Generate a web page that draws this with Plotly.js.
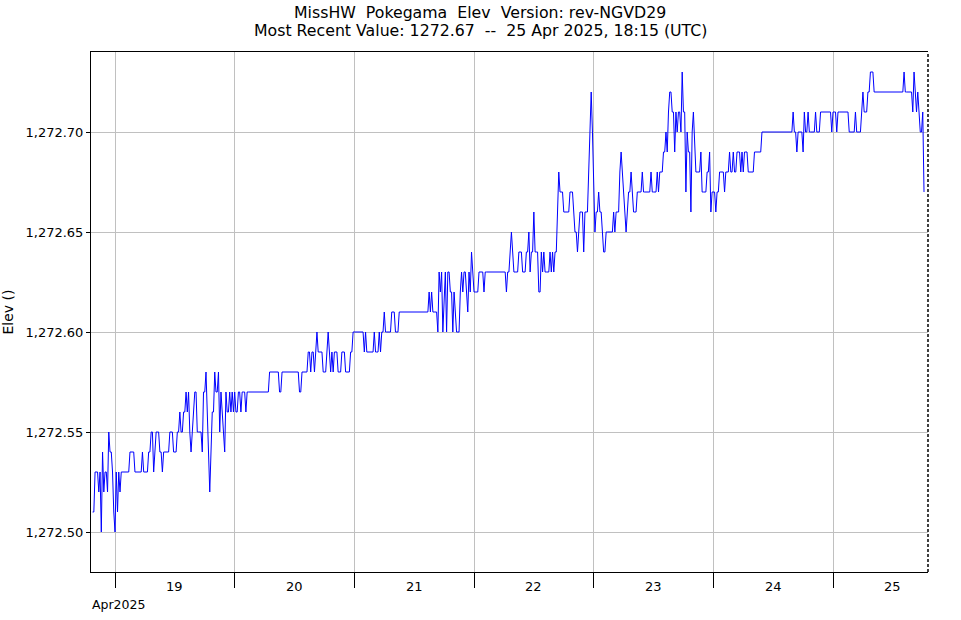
<!DOCTYPE html>
<html>
<head>
<meta charset="utf-8">
<script src="https://cdn.plot.ly/plotly-3.0.1.min.js"></script>
<style>html,body{margin:0;padding:0;background:#fff;}#chart{width:961px;height:620px;}</style>
</head>
<body>
<div id="chart"></div>
<script>
// 15-minute samples starting 2025-04-18 19:30 UTC
const startTime = '2025-04-18T19:30:00Z';
const stepMinutes = 15;
const elev = [
1272.51,1272.51,1272.53,1272.53,1272.53,1272.52,1272.53,1272.50,1272.54,1272.52,
1272.53,1272.53,1272.52,1272.55,1272.54,1272.54,1272.53,1272.51,1272.50,1272.53,
1272.51,1272.53,1272.52,1272.53,1272.53,1272.53,1272.53,1272.53,1272.53,1272.53,
1272.54,1272.54,1272.54,1272.54,1272.53,1272.53,1272.53,1272.53,1272.53,1272.53,
1272.54,1272.53,1272.53,1272.53,1272.53,1272.54,1272.54,1272.55,1272.55,1272.53,
1272.54,1272.55,1272.55,1272.55,1272.54,1272.54,1272.53,1272.54,1272.54,1272.54,
1272.54,1272.54,1272.55,1272.55,1272.55,1272.54,1272.54,1272.54,1272.55,1272.55,
1272.56,1272.55,1272.55,1272.56,1272.56,1272.57,1272.56,1272.57,1272.55,1272.54,
1272.55,1272.56,1272.57,1272.57,1272.55,1272.55,1272.55,1272.55,1272.54,1272.57,
1272.57,1272.58,1272.56,1272.54,1272.52,1272.54,1272.56,1272.56,1272.58,1272.57,
1272.57,1272.58,1272.55,1272.57,1272.56,1272.55,1272.54,1272.57,1272.56,1272.56,
1272.57,1272.56,1272.57,1272.56,1272.57,1272.56,1272.56,1272.57,1272.57,1272.56,
1272.57,1272.57,1272.57,1272.56,1272.57,1272.57,1272.57,1272.57,1272.57,1272.57,
1272.57,1272.57,1272.57,1272.57,1272.57,1272.57,1272.57,1272.57,1272.57,1272.57,
1272.57,1272.57,1272.58,1272.58,1272.58,1272.58,1272.58,1272.58,1272.58,1272.58,
1272.57,1272.57,1272.58,1272.58,1272.58,1272.58,1272.58,1272.58,1272.58,1272.58,
1272.58,1272.58,1272.58,1272.58,1272.58,1272.58,1272.57,1272.57,1272.58,1272.58,
1272.58,1272.58,1272.58,1272.59,1272.59,1272.58,1272.59,1272.59,1272.58,1272.59,
1272.60,1272.59,1272.59,1272.59,1272.59,1272.58,1272.58,1272.58,1272.59,1272.60,
1272.59,1272.58,1272.59,1272.58,1272.59,1272.59,1272.59,1272.58,1272.58,1272.58,
1272.59,1272.59,1272.59,1272.58,1272.58,1272.58,1272.58,1272.59,1272.59,1272.60,
1272.60,1272.60,1272.60,1272.60,1272.60,1272.60,1272.60,1272.60,1272.59,1272.60,
1272.59,1272.59,1272.59,1272.59,1272.59,1272.59,1272.60,1272.59,1272.59,1272.59,
1272.60,1272.59,1272.60,1272.60,1272.61,1272.60,1272.60,1272.60,1272.60,1272.60,
1272.61,1272.61,1272.61,1272.60,1272.60,1272.60,1272.61,1272.61,1272.61,1272.61,
1272.61,1272.61,1272.61,1272.61,1272.61,1272.61,1272.61,1272.61,1272.61,1272.61,
1272.61,1272.61,1272.61,1272.61,1272.61,1272.61,1272.61,1272.61,1272.61,1272.61,
1272.62,1272.61,1272.62,1272.61,1272.61,1272.61,1272.61,1272.60,1272.63,1272.62,
1272.63,1272.60,1272.62,1272.63,1272.60,1272.63,1272.63,1272.62,1272.62,1272.60,
1272.62,1272.61,1272.60,1272.60,1272.60,1272.62,1272.63,1272.62,1272.63,1272.63,
1272.62,1272.61,1272.63,1272.62,1272.64,1272.63,1272.62,1272.62,1272.62,1272.62,
1272.63,1272.63,1272.63,1272.63,1272.62,1272.63,1272.63,1272.63,1272.63,1272.63,
1272.63,1272.63,1272.63,1272.63,1272.63,1272.63,1272.63,1272.63,1272.63,1272.63,
1272.63,1272.63,1272.62,1272.63,1272.63,1272.64,1272.65,1272.64,1272.63,1272.63,
1272.63,1272.63,1272.64,1272.64,1272.64,1272.63,1272.63,1272.63,1272.64,1272.64,
1272.65,1272.63,1272.64,1272.64,1272.66,1272.64,1272.64,1272.64,1272.62,1272.62,
1272.64,1272.63,1272.64,1272.63,1272.63,1272.63,1272.63,1272.64,1272.63,1272.64,
1272.63,1272.64,1272.64,1272.66,1272.68,1272.67,1272.67,1272.67,1272.66,1272.66,
1272.66,1272.66,1272.66,1272.67,1272.67,1272.67,1272.66,1272.65,1272.65,1272.64,
1272.65,1272.66,1272.66,1272.66,1272.64,1272.66,1272.66,1272.66,1272.68,1272.70,
1272.72,1272.70,1272.67,1272.65,1272.66,1272.66,1272.67,1272.66,1272.66,1272.65,
1272.64,1272.64,1272.65,1272.65,1272.65,1272.65,1272.65,1272.65,1272.66,1272.65,
1272.66,1272.66,1272.66,1272.68,1272.69,1272.68,1272.67,1272.66,1272.65,1272.66,
1272.67,1272.67,1272.68,1272.67,1272.66,1272.66,1272.66,1272.67,1272.67,1272.67,
1272.67,1272.68,1272.67,1272.67,1272.67,1272.67,1272.67,1272.67,1272.68,1272.67,
1272.67,1272.67,1272.67,1272.68,1272.67,1272.68,1272.68,1272.68,1272.69,1272.69,
1272.70,1272.69,1272.71,1272.72,1272.72,1272.71,1272.71,1272.69,1272.71,1272.70,
1272.71,1272.71,1272.70,1272.73,1272.71,1272.71,1272.67,1272.70,1272.69,1272.69,
1272.66,1272.70,1272.71,1272.69,1272.68,1272.68,1272.68,1272.68,1272.69,1272.67,
1272.67,1272.67,1272.67,1272.68,1272.68,1272.69,1272.66,1272.67,1272.67,1272.67,
1272.66,1272.67,1272.67,1272.68,1272.68,1272.68,1272.68,1272.67,1272.68,1272.68,
1272.68,1272.69,1272.68,1272.68,1272.69,1272.68,1272.68,1272.69,1272.69,1272.69,
1272.68,1272.69,1272.68,1272.69,1272.69,1272.69,1272.68,1272.68,1272.68,1272.68,
1272.68,1272.69,1272.69,1272.69,1272.69,1272.69,1272.69,1272.70,1272.70,1272.70,
1272.70,1272.70,1272.70,1272.70,1272.70,1272.70,1272.70,1272.70,1272.70,1272.70,
1272.70,1272.70,1272.70,1272.70,1272.70,1272.70,1272.70,1272.70,1272.70,1272.70,
1272.70,1272.70,1272.71,1272.70,1272.70,1272.69,1272.70,1272.70,1272.70,1272.70,
1272.69,1272.71,1272.70,1272.70,1272.71,1272.70,1272.70,1272.70,1272.70,1272.70,
1272.71,1272.70,1272.70,1272.70,1272.71,1272.71,1272.71,1272.71,1272.71,1272.71,
1272.71,1272.71,1272.71,1272.70,1272.71,1272.71,1272.71,1272.70,1272.71,1272.71,
1272.71,1272.71,1272.71,1272.71,1272.71,1272.71,1272.71,1272.70,1272.70,1272.70,
1272.70,1272.70,1272.71,1272.70,1272.70,1272.70,1272.70,1272.71,1272.72,1272.71,
1272.71,1272.71,1272.72,1272.72,1272.73,1272.73,1272.73,1272.72,1272.72,1272.72,
1272.72,1272.72,1272.72,1272.72,1272.72,1272.72,1272.72,1272.72,1272.72,1272.72,
1272.72,1272.72,1272.72,1272.72,1272.72,1272.72,1272.72,1272.72,1272.72,1272.72,
1272.72,1272.73,1272.72,1272.72,1272.72,1272.72,1272.72,1272.72,1272.71,1272.73,
1272.72,1272.71,1272.72,1272.71,1272.70,1272.70,1272.71,1272.67
];
const dayTicks = ['2025-04-19','2025-04-20','2025-04-21','2025-04-22','2025-04-23','2025-04-24','2025-04-25'];
const dayLabels = ['19','20','21','22','23','24','25'];
const dayLabelPos = ['2025-04-19 12:00','2025-04-20 12:00','2025-04-21 12:00','2025-04-22 12:00','2025-04-23 12:00','2025-04-24 12:00','2025-04-25 12:00'];
const yTicks = [1272.50, 1272.55, 1272.60, 1272.65, 1272.70];
const xRange = ['2025-04-18 19:11', '2025-04-25 19:03'];
const yRange = [1272.48, 1272.74];
const titleLines = ['MissHW\u00a0 Pokegama\u00a0 Elev\u00a0 Version: rev-NGVD29',
                    'Most Recent Value: 1272.67\u00a0 --\u00a0 25 Apr 2025, 18:15 (UTC)'];

function fmt(d){
  const p = n => String(n).padStart(2,'0');
  return d.getUTCFullYear()+'-'+p(d.getUTCMonth()+1)+'-'+p(d.getUTCDate())+' '+p(d.getUTCHours())+':'+p(d.getUTCMinutes());
}
const t0 = Date.parse(startTime);
const times = elev.map((v,i) => fmt(new Date(t0 + i*stepMinutes*60000)));

const FONT = 'DejaVu Sans, Verdana, sans-serif';
const annotations = dayLabels.map((lab,i) => ({
  x: dayLabelPos[i], xref:'x', y: -0.027, yref:'paper', text: lab, showarrow:false,
  xanchor:'center', yanchor:'middle', font:{family:FONT, size:13, color:'#000'}
}));
annotations.push({x:0, xref:'paper', y:-0.062, yref:'paper', text:'Apr2025', showarrow:false,
  xanchor:'left', yanchor:'middle', xshift:-1, font:{family:FONT, size:12.5, color:'#000'}});
// two title lines, centred on the page
annotations.push({x:0.4648, xref:'paper', y:1.0769, yref:'paper', text:titleLines[0], showarrow:false,
  xanchor:'center', yanchor:'middle', font:{family:FONT, size:15.75, color:'#000'}});
annotations.push({x:0.4648, xref:'paper', y:1.0404, yref:'paper', text:titleLines[1], showarrow:false,
  xanchor:'center', yanchor:'middle', font:{family:FONT, size:15.75, color:'#000'}});

const trace = {x: times, y: elev, type:'scatter', mode:'lines', line:{color:'#0000ff', width:1}, hoverinfo:'x+y'};

const layout = {
  width:961, height:620,
  margin:{l:91, r:33, t:52, b:48, pad:0},
  paper_bgcolor:'#fff', plot_bgcolor:'#fff',
  showlegend:false,
  xaxis:{type:'date', range:xRange, tickvals:dayTicks, ticktext:dayTicks.map(()=>''),
    ticks:'outside', ticklen:15, tickwidth:1, tickcolor:'#000',
    showgrid:true, gridcolor:'#c0c0c0', gridwidth:1, zeroline:false,
    showline:true, linecolor:'#000', linewidth:1, mirror:true},
  yaxis:{range:yRange, tickvals:yTicks, tickformat:',.2f',
    ticks:'outside', ticklen:4, tickwidth:1, tickcolor:'#000',
    showgrid:true, gridcolor:'#c0c0c0', gridwidth:1, zeroline:false,
    showline:true, linecolor:'#000', linewidth:1,
    tickfont:{family:FONT, size:13, color:'#000'},
    title:{text:'Elev ()', font:{family:FONT, size:14, color:'#000'}, standoff:10}},
  shapes:[{type:'line', xref:'paper', yref:'paper', x0:1, x1:1, y0:0, y1:1, line:{color:'#000', width:1.5, dash:'3px,2px'}}],
  annotations: annotations
};
Plotly.newPlot('chart', [trace], layout, {displayModeBar:false, staticPlot:true});
</script>
</body>
</html>
